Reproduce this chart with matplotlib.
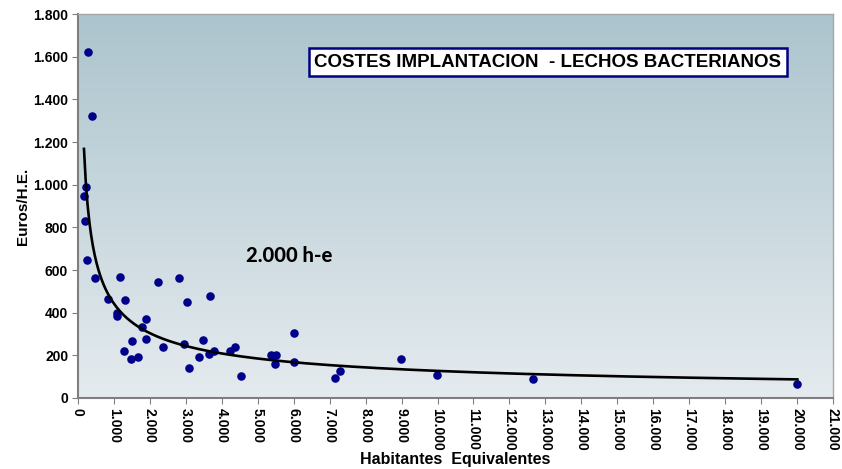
import numpy as np
import matplotlib.pyplot as plt
from matplotlib.colors import LinearSegmentedColormap

# Habitantes equivalentes vs coste de implantacion (Euros/H.E.)
he = [287, 380, 214, 167, 195, 265, 487, 1172, 844, 1302,
      2220, 2800, 3023, 3680, 1075, 1085, 1905, 1775, 1502, 1905,
      1280, 1465, 1673, 2355, 2939, 3088, 3490, 3366, 3635, 3788,
      4232, 4380, 4543, 5370, 5508, 5480, 6004, 6004, 7145, 7292,
      8985, 9990, 12665, 20009]
euros = [1623, 1322, 989, 946, 828, 645, 561, 568, 462, 459,
         542, 564, 452, 478, 397, 384, 371, 331, 267, 278,
         220, 184, 194, 241, 251, 142, 272, 194, 206, 221,
         219, 238, 104, 200, 200, 161, 303, 167, 92, 128,
         184, 107, 89, 64]

x_ticks = list(range(0, 21001, 1000))
y_ticks = list(range(0, 1801, 200))

def miles(v):
    # spanish thousands separator
    return f"{v:,}".replace(",", ".")

fig = plt.figure(figsize=(8.42, 4.69), dpi=100)
ax = fig.add_axes([0.0926, 0.1514, 0.8967, 0.8187])

# gradient background of the plot area
cmap = LinearSegmentedColormap.from_list("fondo", ["#e5ebef", "#acc4cd"])
grad = np.linspace(0, 1, 256).reshape(-1, 1)
ax.imshow(grad, cmap=cmap, aspect="auto", extent=[0, 1, 0, 1],
          transform=ax.transAxes, origin="lower", zorder=0)

ax.scatter(he, euros, s=38, color="#00008b", zorder=3, linewidths=0)

# power trend line (least squares in log-log space, as the spreadsheet does)
b, lna = np.polyfit(np.log(he), np.log(euros), 1)
xs = np.linspace(min(he), max(he), 400)
ax.plot(xs, np.exp(lna) * xs ** b, color="black", lw=1.9, zorder=4)

ax.set_xlim(0, 21000)
ax.set_ylim(0, 1800)
ax.set_xticks(x_ticks)
ax.set_xticklabels([miles(v) for v in x_ticks], rotation=270,
                   fontsize=10, fontweight="bold", family="Liberation Sans")
ax.set_yticks(y_ticks)
ax.set_yticklabels([miles(v) for v in y_ticks],
                   fontsize=10, fontweight="bold", family="Liberation Sans")
ax.tick_params(direction="out", length=4, color="#808080", pad=3)

for side in ["left", "bottom"]:
    ax.spines[side].set_color("#7f7f7f")
    ax.spines[side].set_linewidth(1.5)
for side in ["top", "right"]:
    ax.spines[side].set_color("#a6a6a6")
    ax.spines[side].set_linewidth(1.0)

ax.set_ylabel("Euros/H.E.", fontsize=11, fontweight="bold",
              family="Liberation Sans", labelpad=2)
ax.set_xlabel("Habitantes  Equivalentes", fontsize=11.5, fontweight="bold",
              family="Liberation Sans", labelpad=1)

ax.text(0.6225, 0.875, "COSTES IMPLANTACION  - LECHOS BACTERIANOS",
        transform=ax.transAxes, ha="center", va="center", fontsize=13.5,
        fontweight="bold", family="Liberation Sans", zorder=5,
        bbox=dict(boxstyle="square,pad=0.3", facecolor="white",
                  edgecolor="#000080", linewidth=1.8))

ax.text(0.2795, 0.372, "2.000 h-e", transform=ax.transAxes, ha="center",
        va="center", fontsize=14.5, fontweight="black", family="Lato",
        zorder=5)

fig.savefig("out.png", dpi=100)
